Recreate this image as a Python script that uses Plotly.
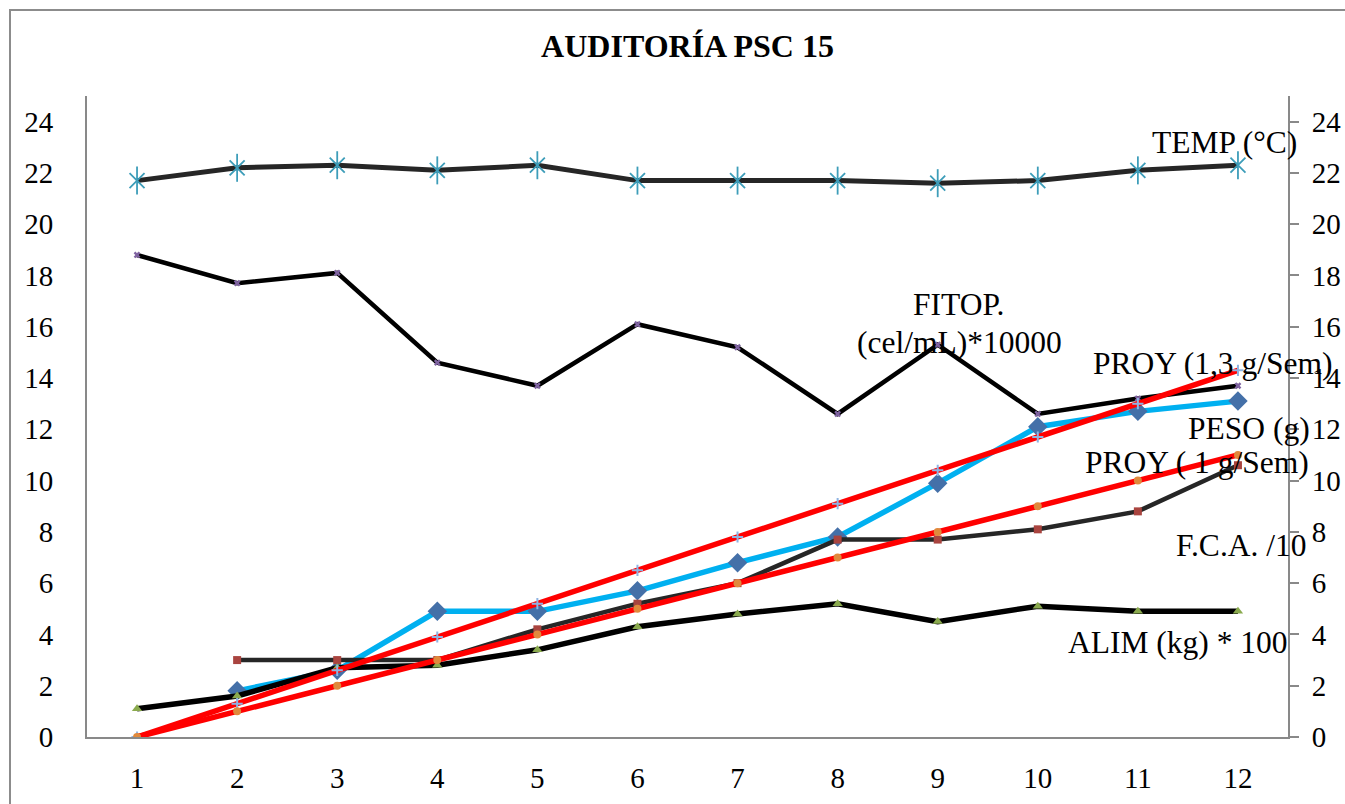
import plotly.graph_objects as go

# Semanas de la auditoría
semanas = [1, 2, 3, 4, 5, 6, 7, 8, 9, 10, 11, 12]

temp_c = [21.7, 22.2, 22.3, 22.1, 22.3, 21.7, 21.7, 21.7, 21.6, 21.7, 22.1, 22.3]
fitop = [18.8, 17.7, 18.1, 14.6, 13.7, 16.1, 15.2, 12.6, 15.3, 12.6, 13.2, 13.7]
peso_g = [None, 1.8, 2.6, 4.9, 4.9, 5.7, 6.8, 7.8, 9.9, 12.1, 12.7, 13.1]
fca_10 = [None, 3.0, 3.0, 3.0, 4.2, 5.2, 6.0, 7.7, 7.7, 8.1, 8.8, 10.6]
alim_kg100 = [1.1, 1.6, 2.7, 2.8, 3.4, 4.3, 4.8, 5.2, 4.5, 5.1, 4.9, 4.9]
proy_13 = [0, 1.3, 2.6, 3.9, 5.2, 6.5, 7.8, 9.1, 10.4, 11.7, 13.0, 14.3]
proy_1 = [0, 1, 2, 3, 4, 5, 6, 7, 8, 9, 10, 11]

y_ticks = [0, 2, 4, 6, 8, 10, 12, 14, 16, 18, 20, 22, 24]

FONT = "'Liberation Serif', 'Times New Roman', serif"
AXIS_GRAY = "#898989"
TEAL = "#3D9DB9"

# Plot-area geometry in pixels
W, H = 1345, 804
L, R, T, B = 87, 1288, 96, 737

fig = go.Figure()

# Temperatura: línea oscura con asterisco de seis brazos
fig.add_trace(go.Scatter(x=semanas, y=temp_c, mode="lines",
                         line=dict(color="#262626", width=5), showlegend=False))
fig.add_trace(go.Scatter(x=semanas, y=temp_c, mode="markers",
                         marker=dict(symbol="x-thin-open", size=15, color=TEAL,
                                     line=dict(color=TEAL, width=1.8)),
                         showlegend=False))
fig.add_trace(go.Scatter(x=semanas, y=temp_c, mode="markers",
                         marker=dict(symbol="line-ns-open", size=20, color=TEAL,
                                     line=dict(color=TEAL, width=1.8)),
                         showlegend=False))

# Fitoplancton
fig.add_trace(go.Scatter(x=semanas, y=fitop, mode="lines+markers",
                         line=dict(color="#000000", width=4.5),
                         marker=dict(symbol="x", size=6, color="#7F63A1"),
                         showlegend=False))

# Peso
fig.add_trace(go.Scatter(x=semanas, y=peso_g, mode="lines+markers",
                         line=dict(color="#00B0F0", width=5.5),
                         marker=dict(symbol="diamond", size=15, color="#4470A8"),
                         showlegend=False))

# F.C.A.
fig.add_trace(go.Scatter(x=semanas, y=fca_10, mode="lines+markers",
                         line=dict(color="#262626", width=4.5),
                         marker=dict(symbol="square", size=8, color="#A9443F"),
                         showlegend=False))

# Alimento
fig.add_trace(go.Scatter(x=semanas, y=alim_kg100, mode="lines+markers",
                         line=dict(color="#000000", width=5.5),
                         marker=dict(symbol="triangle-up", size=9, color="#8AAA4E"),
                         showlegend=False))

# Proyecciones
fig.add_trace(go.Scatter(x=semanas, y=proy_13, mode="lines+markers",
                         line=dict(color="#FF0000", width=5.5),
                         marker=dict(symbol="cross-thin-open", size=8, color="#8EB4E3",
                                     line=dict(color="#8EB4E3", width=2)),
                         showlegend=False))
fig.add_trace(go.Scatter(x=semanas, y=proy_1, mode="lines+markers",
                         line=dict(color="#FF0000", width=5.5),
                         marker=dict(symbol="circle", size=8, color="#E0893C"),
                         showlegend=False))
# Eje derecho (mismos valores)
fig.add_trace(go.Scatter(x=[semanas[0]], y=[y_ticks[0]], yaxis="y2", mode="markers",
                         marker=dict(opacity=0), showlegend=False, hoverinfo="skip"))

# Series labels
labels = ["TEMP (°C)", "FITOP.", "(cel/mL)*10000", "PROY (1,3 g/Sem)", "PESO (g)",
          "PROY ( 1 g/Sem)", "F.C.A. /10", "ALIM (kg) * 100"]
label_px = [(1150, 142, "left"), (958, 304, "center"), (959, 342, "center"),
            (1091, 363, "left"), (1186, 428, "left"), (1083, 462, "left"),
            (1174, 545, "left"), (1066, 642, "left")]


def px_to_x(px):
    return 0.5 + (px - L) / (R - L) * 12


def px_to_y(py):
    return (B - py) / (B - T) * 25


annotations = []
for text, (px, py, anchor) in zip(labels, label_px):
    annotations.append(dict(x=px_to_x(px), y=px_to_y(py), xref="x", yref="y",
                            text=text, showarrow=False, xanchor=anchor,
                            yanchor="middle", align="center",
                            font=dict(family=FONT, size=31.5, color="#000000")))

# Outer chart frame
frame = dict(type="rect", xref="paper", yref="paper",
             x0=(10 - L) / (R - L), x1=(1360 - L) / (R - L),
             y0=(B - 820) / (B - T), y1=(B - 10) / (B - T),
             line=dict(color="#8C8C8C", width=2), fillcolor="rgba(0,0,0,0)",
             layer="below")

tick_font = dict(family=FONT, size=29, color="#000000")

fig.update_layout(
    width=W, height=H,
    margin=dict(l=L, r=W - R, t=T, b=H - B, pad=0, autoexpand=False),
    font=dict(family=FONT, color="#000000"),
    paper_bgcolor="white", plot_bgcolor="white",
    title=dict(text="<b>AUDITORÍA PSC 15</b>", x=0.5, xref="paper",
               y=1 - 46 / H, yanchor="middle", xanchor="center",
               font=dict(family=FONT, size=32, color="#000000")),
    xaxis=dict(range=[0.5, 12.5], tickvals=semanas, ticktext=[str(s) for s in semanas],
               showgrid=False, zeroline=False, showline=True, linecolor=AXIS_GRAY,
               linewidth=2, ticks="", ticklabelstandoff=14, automargin=False,
               tickfont=tick_font),
    yaxis=dict(range=[0, 25], tickvals=y_ticks, showgrid=False, zeroline=False,
               showline=True, linecolor=AXIS_GRAY, linewidth=2, ticks="",
               ticklabelstandoff=26, automargin=False, tickfont=tick_font),
    yaxis2=dict(range=[0, 25], tickvals=y_ticks, overlaying="y", side="right",
                showgrid=False, zeroline=False, showline=True, linecolor=AXIS_GRAY,
                linewidth=2, ticks="outside", ticklen=9, tickwidth=2,
                tickcolor=AXIS_GRAY, ticklabelstandoff=7, automargin=False,
                tickfont=tick_font),
    annotations=annotations,
    shapes=[frame],
)

fig.write_html("out.html")
